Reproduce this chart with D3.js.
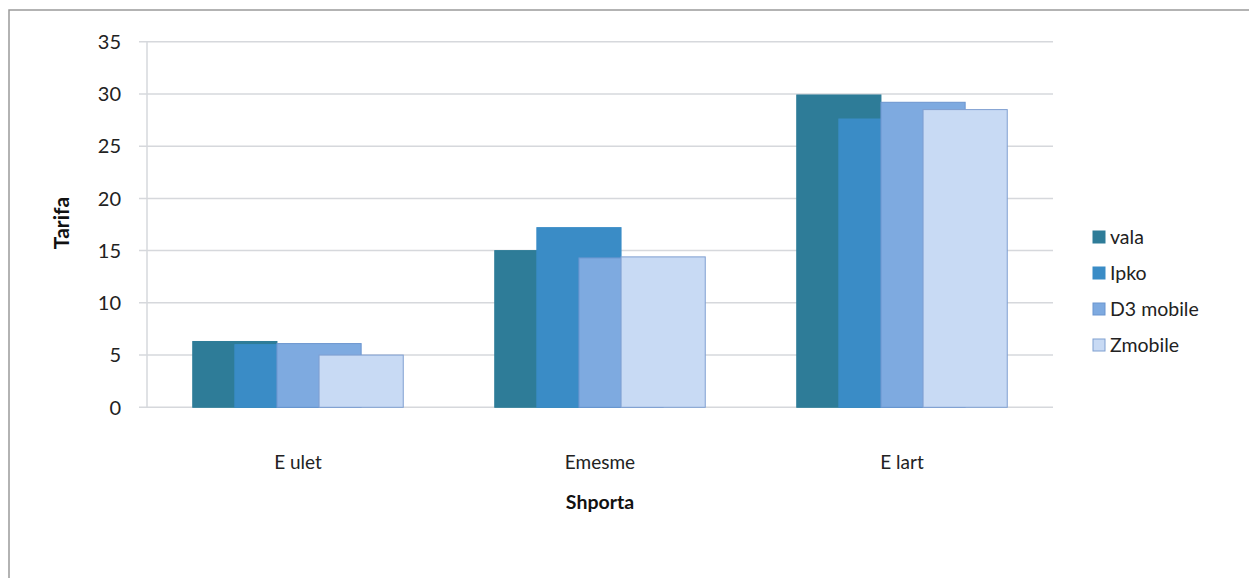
<!DOCTYPE html>
<html><head><meta charset="utf-8">
<script src="https://cdn.jsdelivr.net/npm/d3@7"></script>
<style>
html,body{margin:0;padding:0;background:#fff;}
svg{display:block;font-family:Lato,"Open Sans",sans-serif;}
</style></head>
<body><svg id="c" width="1249" height="578"></svg>
<script>
const categories = ["E ulet", "Emesme", "E lart"];
const seriesNames = ["vala", "Ipko", "D3 mobile", "Zmobile"];
const vala = [6.3, 15.0, 29.9];
const ipko = [6.0, 17.2, 27.6];
const d3mobile = [6.1, 14.3, 29.2];
const zmobile = [5.0, 14.4, 28.5];
const yTicks = [0, 5, 10, 15, 20, 25, 30, 35];
const xTitle = "Shporta";
const yTitle = "Tarifa";

(function () {
const seriesValues = [vala, ipko, d3mobile, zmobile];
const colors = ["#2e7c98", "#3a8cc6", "#7eaae0", "#c8daf4"];
const strokes = ["#2e7c98", "#3a8cc6", "#6b95cf", "#7f9fd0"];

const svg = d3.select("#c");
const pLeft = 147, pRight = 1053, pTop = 41.7, pBottom = 407.3;

svg.append("path").attr("d", "M9,578 L9,10 L1249,10").attr("fill", "none")
  .attr("stroke", "#9a9a9a").attr("stroke-width", 1.5);

const x = d3.scaleBand().domain(categories).range([pLeft, pRight]).paddingInner(0.303).paddingOuter(0.1515);
const y = d3.scaleLinear().domain([0, 35]).range([pBottom, pTop]);

svg.append("g").selectAll("line").data(yTicks).join("line")
  .attr("x1", pLeft - 8).attr("x2", pRight)
  .attr("y1", d => y(d)).attr("y2", d => y(d))
  .attr("stroke", "#d6d8dc").attr("stroke-width", 1.5);
svg.append("line").attr("x1", pLeft).attr("x2", pLeft).attr("y1", pTop).attr("y2", pBottom)
  .attr("stroke", "#d6d8dc").attr("stroke-width", 1.5);

svg.append("g").selectAll("text").data(yTicks).join("text")
  .attr("x", 121).attr("y", d => y(d)).attr("dy", "0.36em")
  .attr("text-anchor", "end").attr("font-size", 20).attr("fill", "#222")
  .text(d => d);

const bw = x.bandwidth() / 2.5, step = bw / 2;
seriesValues.forEach((vals, si) => {
  svg.append("g").selectAll("rect").data(categories).join("rect")
    .attr("x", c => x(c) + si * step)
    .attr("y", (c, i) => y(vals[i]))
    .attr("width", bw)
    .attr("height", (c, i) => y(0) - y(vals[i]))
    .attr("fill", colors[si])
    .attr("stroke", strokes[si]).attr("stroke-width", 1);
});

svg.append("g").selectAll("text").data(categories).join("text")
  .attr("x", c => x(c) + x.bandwidth() / 2).attr("y", 469)
  .attr("text-anchor", "middle").attr("font-size", 19).attr("fill", "#222")
  .text(c => c);

svg.append("text").attr("x", (pLeft + pRight) / 2).attr("y", 509)
  .attr("text-anchor", "middle").attr("font-size", 19.5).attr("font-weight", "bold").attr("fill", "#111")
  .text(xTitle);
svg.append("text").attr("transform", "translate(69,223) rotate(-90)")
  .attr("text-anchor", "middle").attr("font-size", 21).attr("font-weight", "bold").attr("fill", "#111")
  .text(yTitle);

const lg = svg.append("g");
seriesNames.forEach((n, i) => {
  const ly = 237 + i * 36;
  lg.append("rect").attr("x", 1093).attr("y", ly - 6).attr("width", 12).attr("height", 12)
    .attr("fill", colors[i]).attr("stroke", strokes[i]);
  lg.append("text").attr("x", 1110).attr("y", ly).attr("dy", "0.36em")
    .attr("font-size", 19.5).attr("fill", "#222").text(n);
});
})();
</script></body></html>
